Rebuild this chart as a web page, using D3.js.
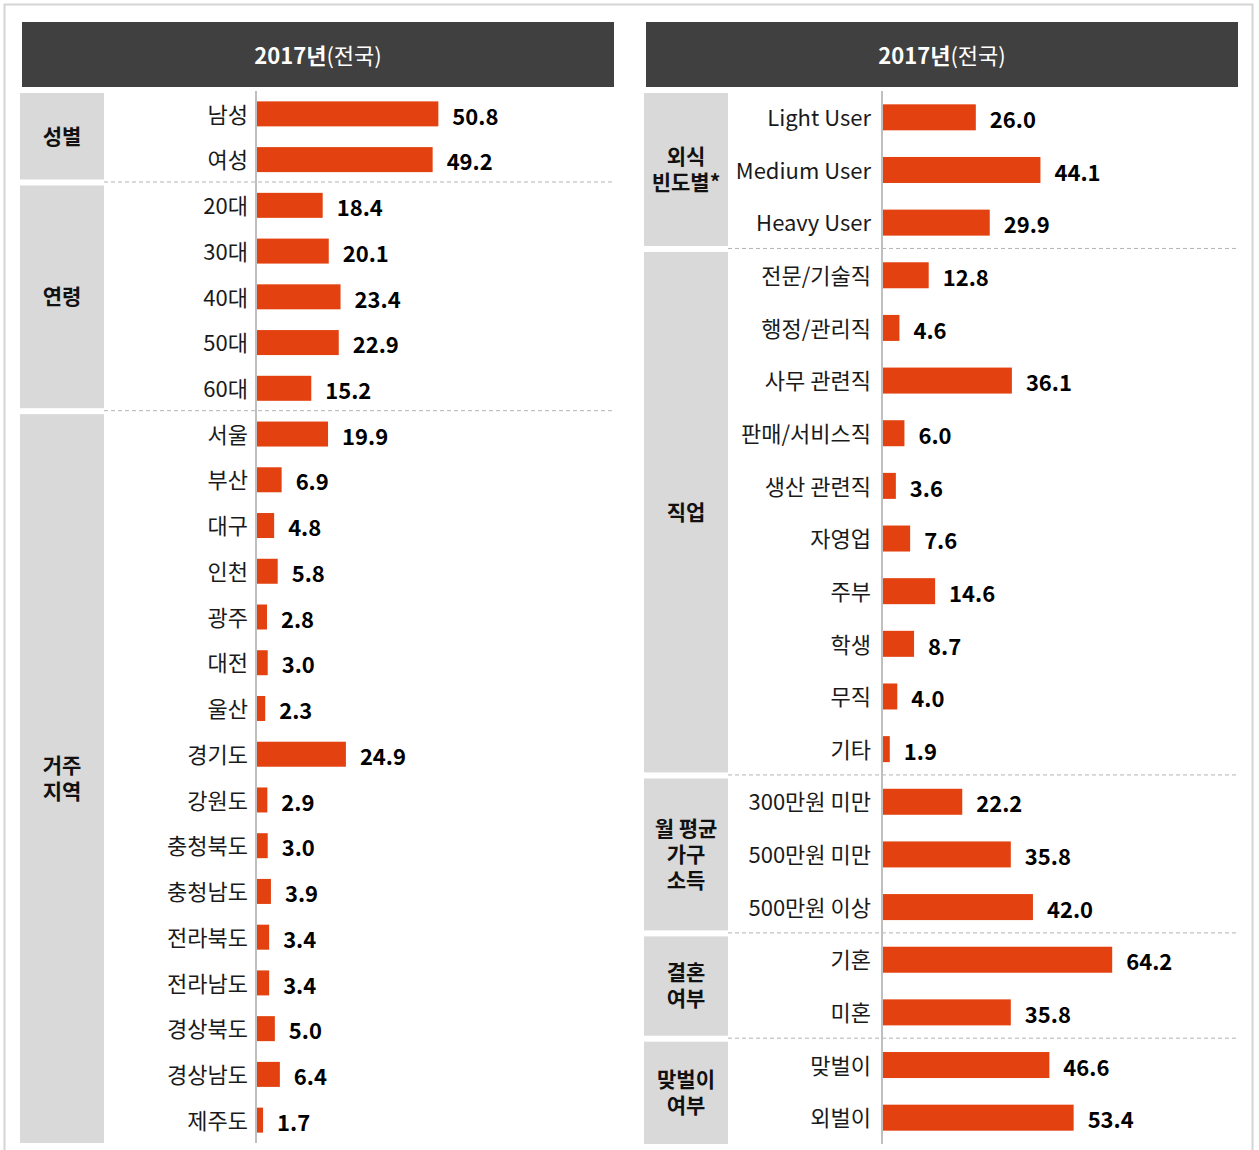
<!DOCTYPE html>
<html>
<head>
<meta charset="utf-8">
<script src="https://cdn.jsdelivr.net/npm/d3@7"></script>
<style>
  body { margin: 0; background: #fff; }
  svg { display: block; font-family: "Noto Sans CJK KR", "Noto Sans", sans-serif; }
</style>
</head>
<body>
<svg id="chart" width="1259" height="1150"></svg>
<script>
// ---- data ----
const genderLabels = ["남성", "여성"];
const genderValues = [50.8, 49.2];

const ageLabels = ["20대", "30대", "40대", "50대", "60대"];
const ageValues = [18.4, 20.1, 23.4, 22.9, 15.2];

const regionLabels = ["서울", "부산", "대구", "인천", "광주", "대전", "울산", "경기도",
  "강원도", "충청북도", "충청남도", "전라북도", "전라남도", "경상북도", "경상남도", "제주도"];
const regionValues = [19.9, 6.9, 4.8, 5.8, 2.8, 3.0, 2.3, 24.9, 2.9, 3.0, 3.9, 3.4, 3.4, 5.0, 6.4, 1.7];

const freqLabels = ["Light User", "Medium User", "Heavy User"];
const freqValues = [26.0, 44.1, 29.9];

const jobLabels = ["전문/기술직", "행정/관리직", "사무 관련직", "판매/서비스직", "생산 관련직",
  "자영업", "주부", "학생", "무직", "기타"];
const jobValues = [12.8, 4.6, 36.1, 6.0, 3.6, 7.6, 14.6, 8.7, 4.0, 1.9];

const incomeLabels = ["300만원 미만", "500만원 미만", "500만원 이상"];
const incomeValues = [22.2, 35.8, 42.0];

const marriageLabels = ["기혼", "미혼"];
const marriageValues = [64.2, 35.8];

const dualLabels = ["맞벌이", "외벌이"];
const dualValues = [46.6, 53.4];

const leftGroups = [
  { name: ["성별"], labels: genderLabels, values: genderValues },
  { name: ["연령"], labels: ageLabels, values: ageValues },
  { name: ["거주", "지역"], labels: regionLabels, values: regionValues }
];
const rightGroups = [
  { name: ["외식", "빈도별*"], labels: freqLabels, values: freqValues },
  { name: ["직업"], labels: jobLabels, values: jobValues },
  { name: ["월 평균", "가구", "소득"], labels: incomeLabels, values: incomeValues },
  { name: ["결혼", "여부"], labels: marriageLabels, values: marriageValues },
  { name: ["맞벌이", "여부"], labels: dualLabels, values: dualValues }
];

const barColor = "#e3410f";
const svg = d3.select("#chart");

// outer frame (open at the bottom)
svg.append("rect")
  .attr("x", 4.5).attr("y", 4.5)
  .attr("width", 1248).attr("height", 1160)
  .attr("fill", "none")
  .attr("stroke", "#d4d4d4")
  .attr("stroke-width", 2);

function drawPanel(groups, cfg) {
  const g = svg.append("g");

  // header
  g.append("rect")
    .attr("x", cfg.headX).attr("y", 22)
    .attr("width", cfg.right - cfg.headX).attr("height", 65)
    .attr("fill", "#404040");
  const ht = g.append("text")
    .attr("x", (cfg.headX + cfg.right) / 2).attr("y", 56)
    .attr("dy", "0.35em")
    .attr("text-anchor", "middle")
    .attr("fill", "#fff")
    .attr("font-size", 22);
  ht.append("tspan").attr("font-weight", "bold").text("2017년");
  ht.append("tspan").attr("font-weight", "normal").text("(전국)");

  // flatten rows
  let rows = [];
  groups.forEach((grp, gi) => {
    grp.labels.forEach((l, i) => rows.push({ label: l, value: grp.values[i], group: gi }));
  });

  const y = d3.scaleBand()
    .domain(d3.range(rows.length))
    .range([cfg.top, cfg.bottom]);
  const x = d3.scaleLinear()
    .domain([0, 100])
    .range([cfg.axisX + 1, cfg.axisX + 1 + 357]);

  // group blocks
  let start = 0;
  groups.forEach((grp, gi) => {
    const n = grp.labels.length;
    const y0 = y(start), y1 = y(start + n - 1) + y.bandwidth();
    const top = gi == 0 ? y0 + 2 : y0 + 3;
    const bot = gi == groups.length - 1 ? y1 : y1 - 3;
    g.append("rect")
      .attr("x", cfg.catX).attr("y", top)
      .attr("width", cfg.catW).attr("height", bot - top)
      .attr("fill", "#d9d9d9");
    const lh = 26;
    const mid = (top + bot) / 2;
    g.append("text")
      .attr("text-anchor", "middle")
      .attr("font-weight", "bold")
      .attr("font-size", 21)
      .attr("fill", "#111")
      .selectAll("tspan")
      .data(grp.name)
      .join("tspan")
      .attr("x", cfg.catX + cfg.catW / 2)
      .attr("y", (d, i) => mid + (i - (grp.name.length - 1) / 2) * lh)
      .attr("dy", "0.35em")
      .text(d => d);
    if (gi > 0) {
      g.append("line")
        .attr("x1", cfg.catX + cfg.catW).attr("x2", cfg.right)
        .attr("y1", y0 - 0.5).attr("y2", y0 - 0.5)
        .attr("stroke", "#b3b3b3")
        .attr("stroke-dasharray", "4,3");
    }
    start += n;
  });

  // bars
  g.selectAll(".bar")
    .data(rows)
    .join("rect")
    .attr("class", "bar")
    .attr("x", x(0))
    .attr("y", (d, i) => y(i) + (y.bandwidth() - cfg.barH) / 2)
    .attr("width", d => x(d.value) - x(0))
    .attr("height", cfg.barH)
    .attr("fill", barColor);

  // category labels
  g.selectAll(".lab")
    .data(rows)
    .join("text")
    .attr("class", "lab")
    .attr("x", cfg.labelX)
    .attr("y", (d, i) => y(i) + y.bandwidth() / 2 + 1)
    .attr("dy", "0.35em")
    .attr("text-anchor", "end")
    .attr("font-size", 22)
    .attr("fill", "#1a1a1a")
    .text(d => d.label);

  // values
  g.selectAll(".val")
    .data(rows)
    .join("text")
    .attr("class", "val")
    .attr("x", d => x(d.value) + 14)
    .attr("y", (d, i) => y(i) + y.bandwidth() / 2 + 3)
    .attr("dy", "0.35em")
    .attr("font-size", 22)
    .attr("font-weight", "bold")
    .attr("fill", "#000")
    .text(d => d.value.toFixed(1));

  // axis line
  g.append("line")
    .attr("x1", cfg.axisX).attr("x2", cfg.axisX)
    .attr("y1", cfg.top).attr("y2", cfg.bottom)
    .attr("stroke", "#bfbfbf")
    .attr("stroke-width", 2);
}

drawPanel(leftGroups, {
  headX: 22, right: 614, catX: 20, catW: 84,
  axisX: 256, labelX: 248, top: 91, bottom: 1143, barH: 25
});
drawPanel(rightGroups, {
  headX: 646, right: 1238, catX: 644, catW: 84,
  axisX: 882, labelX: 871, top: 91, bottom: 1144, barH: 26
});
</script>
</body>
</html>
